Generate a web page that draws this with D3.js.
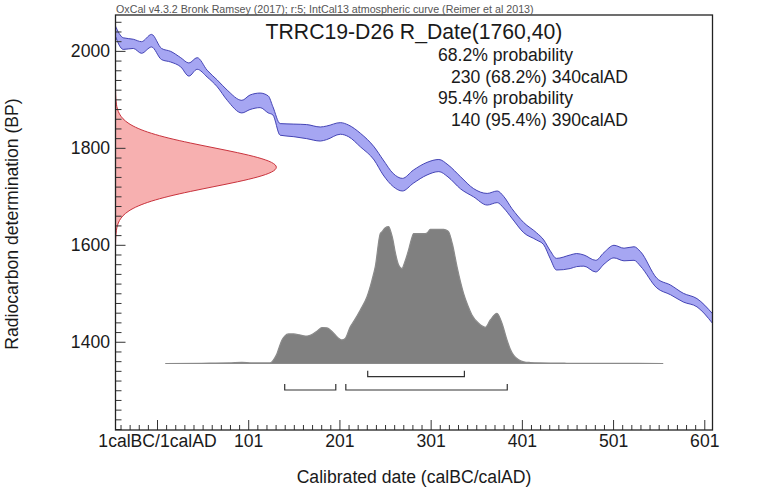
<!DOCTYPE html>
<html><head><meta charset="utf-8">
<script src="https://cdn.jsdelivr.net/npm/d3@7"></script>
<style>
body{margin:0;background:#fff}
svg{display:block}
text{font-family:Arial,"Liberation Sans",Helvetica,sans-serif}
</style>
</head><body>
<svg id="c" width="782" height="495"></svg>
<script>
// ---- data ----
const calYears = [-45,-36,-25,-16,-5,6,16,27,36,45,56,67,78,94,103,114,123,128,136,151,165,180,187,202,211,224,239,249,260,270,282,297,310,320,334,348,363,374,381,390,403,417,425,432,439,454,461,469,482,491,502,513,524,531,549,564,578,593,610];
const calUpper = [2053,2027,2024,2019,2034,2005,1999,1986,1975,1986,1960,1940,1919,1898,1909,1913,1907,1885,1850,1849,1848,1843,1845,1852,1847,1830,1802,1775,1747,1737,1754,1770,1776,1765,1740,1716,1706,1711,1700,1675,1646,1625,1610,1588,1572,1579,1582,1579,1568,1584,1599,1593,1596,1586,1531,1517,1500,1489,1458];
const calLower = [2032,2003,2005,1995,2008,1982,1977,1967,1948,1962,1946,1926,1898,1872,1879,1883,1872,1868,1826,1823,1819,1814,1817,1828,1823,1802,1775,1744,1720,1711,1727,1744,1751,1740,1715,1699,1682,1687,1676,1655,1625,1610,1600,1572,1548,1551,1555,1556,1544,1560,1573,1567,1568,1556,1511,1497,1482,1472,1438];

const dateBP      = [1600,1610,1620,1630,1640,1650,1660,1670,1680,1690,1700,1710,1720,1730,1740,1750,1760,1770,1780,1790,1800,1810,1820,1830,1840,1850,1860,1870,1880,1890,1900,1910,1920];
const dateDensity = [0.0003,0.0009,0.0022,0.0051,0.0111,0.0228,0.0439,0.0796,0.1353,0.2163,0.3247,0.4578,0.6065,0.7548,0.8825,0.9692,1,0.9692,0.8825,0.7548,0.6065,0.4578,0.3247,0.2163,0.1353,0.0796,0.0439,0.0228,0.0111,0.0051,0.0022,0.0009,0.0003];

const postYears   = [10,50,80,94,105,125,130,132.6,135,138,141,145.3,150.7,157,163.6,168,172.7,177,181.9,187.4,192,196.5,201,203.8,207.4,212.9,216.5,223.9,231.2,236.7,240.3,245.8,247.7,251,254.9,257.5,259.7,262,265.9,269.6,272,276.8,280,282.3,286,295.1,298,300.6,315.2,318,320.7,325,329.9,337.1,342,346.3,353.6,360.9,366.4,373.7,379.2,384.7,388,391.9,397,402.9,410,421.2,450,500,556];
const postDensity = [0,0.002,0.004,0.008,0.004,0.004,0.04,0.073,0.12,0.172,0.2,0.216,0.216,0.21,0.201,0.205,0.219,0.24,0.263,0.26,0.24,0.208,0.18,0.172,0.183,0.269,0.306,0.391,0.488,0.61,0.708,0.95,0.963,0.99,1,0.96,0.903,0.82,0.72,0.694,0.73,0.83,0.91,0.95,0.95,0.95,0.96,0.981,0.981,0.975,0.963,0.87,0.708,0.513,0.42,0.355,0.294,0.265,0.318,0.367,0.294,0.172,0.11,0.062,0.03,0.013,0.007,0.004,0.002,0.001,0];

const range68 = [[232,338]];
const range95 = [[141,197],[208,385]];

const xMajorTicks = [1,101,201,301,401,501,601];
const xTickLabels = ["1calBC/1calAD","101","201","301","401","501","601"];
const yMajorTicks = [1400,1600,1800,2000];
const yTickLabels = ["1400","1600","1800","2000"];

const headerText = "OxCal v4.3.2 Bronk Ramsey (2017); r:5; IntCal13 atmospheric curve (Reimer et al 2013)";
const titleText = "TRRC19-D26 R_Date(1760,40)";
const summaryLines = ["68.2% probability","230 (68.2%) 340calAD","95.4% probability","140 (95.4%) 390calAD"];
const xLabel = "Calibrated date (calBC/calAD)";
const yLabel = "Radiocarbon determination (BP)";

// ---- layout ----
const L = 115.5, R = 712.5, T = 15, B = 430;
const svg = d3.select("#c");
const x = d3.scaleLinear().domain([-44.5, 610]).range([L, R]);
const y = d3.scaleLinear().domain([1218, 2074]).range([B, T]);
const dx = d3.scaleLinear().domain([0, 1]).range([L, 278]);
const base = 363.5;
const gh = d3.scaleLinear().domain([0, 1]).range([base, 226.7]);

svg.append("defs").append("clipPath").attr("id","clip")
  .append("rect").attr("x",L).attr("y",T).attr("width",R-L).attr("height",B-T);

const plot = svg.append("g").attr("clip-path","url(#clip)");

// calibration curve band
const cal = calYears.map((d,i)=>({yr:d, u:calUpper[i], l:calLower[i]}));
plot.append("path").datum(cal)
  .attr("d", d3.area().x(d=>x(d.yr)).y0(d=>y(d.l)).y1(d=>y(d.u)).curve(d3.curveMonotoneX))
  .attr("fill","#a6a6f2").attr("stroke","none");
["u","l"].forEach(k=>{
  plot.append("path").datum(cal)
    .attr("d", d3.line().x(d=>x(d.yr)).y(d=>y(d[k])).curve(d3.curveMonotoneX))
    .attr("fill","none").attr("stroke","#3c3cb0").attr("stroke-width",0.95);
});

// radiocarbon date distribution (red)
const rd = dateBP.map((d,i)=>({bp:d, p:dateDensity[i]}));
plot.append("path").datum(rd)
  .attr("d", d3.area().y(d=>y(d.bp)).x0(L).x1(d=>dx(d.p)).curve(d3.curveBasis))
  .attr("fill","#f7b0b0").attr("stroke","#c8323c").attr("stroke-width",1);

// calibrated distribution (gray)
const pd = postYears.map((d,i)=>({yr:d, p:postDensity[i]}));
plot.append("path").datum(pd)
  .attr("d", d3.area().x(d=>x(d.yr)).y0(base).y1(d=>gh(d.p)).curve(d3.curveMonotoneX))
  .attr("fill","#808080").attr("stroke","#8a8a8a").attr("stroke-width",1.2);

// range brackets
function bracket(ranges, yy){
  ranges.forEach(r=>{
    svg.append("path")
      .attr("d", `M${x(r[0])},${yy-6}V${yy}H${x(r[1])}V${yy-6}`)
      .attr("fill","none").attr("stroke","#333").attr("stroke-width",1.2);
  });
}
bracket(range68, 376.7);
bracket(range95, 390);

// axes
const xMinor = d3.range(-39, 611, 10).filter(v=>!xMajorTicks.includes(v));
const yMinor = d3.range(1220, 2074, 20).filter(v=>!yMajorTicks.includes(v));

const gxm = svg.append("g").attr("transform",`translate(0,${B})`)
  .call(d3.axisBottom(x).tickValues(xMinor).tickSize(-5).tickFormat(""));
const gx = svg.append("g").attr("transform",`translate(0,${B})`)
  .call(d3.axisBottom(x).tickValues(xMajorTicks).tickSize(-10).tickPadding(4.5)
    .tickFormat((d,i)=>xTickLabels[i]));
const gym = svg.append("g").attr("transform",`translate(${L},0)`)
  .call(d3.axisLeft(y).tickValues(yMinor).tickSize(-6).tickFormat(""));
const gy = svg.append("g").attr("transform",`translate(${L},0)`)
  .call(d3.axisLeft(y).tickValues(yMajorTicks).tickSize(-10).tickPadding(5.5)
    .tickFormat((d,i)=>yTickLabels[i]));
[gxm,gx,gym,gy].forEach(g=>{
  g.select(".domain").remove();
  g.selectAll("line").attr("stroke","#333").attr("stroke-width",1);
  g.selectAll("text").attr("fill","#1a1a1a").style("font-size","17.6px");
});

// frame
svg.append("rect").attr("x",L).attr("y",T).attr("width",R-L).attr("height",B-T)
  .attr("fill","none").attr("stroke","#222").attr("stroke-width",1.3);

// texts
svg.append("text").attr("x",116).attr("y",12.8).text(headerText)
  .style("font-size","10.7px").attr("fill","#555");
svg.append("text").attr("x",(L+R)/2).attr("y",39.3).attr("text-anchor","middle")
  .text(titleText).style("font-size","21.2px").attr("fill","#1a1a1a");
const sx = [438,451,438,451], sy = [61,83,104,125.5];
summaryLines.forEach((t,i)=>{
  svg.append("text").attr("x",sx[i]).attr("y",sy[i]).text(t)
    .style("font-size","17.6px").attr("fill","#1a1a1a");
});
svg.append("text").attr("x",(L+R)/2).attr("y",483).attr("text-anchor","middle")
  .text(xLabel).style("font-size","17.6px").attr("fill","#1a1a1a");
svg.append("text").attr("transform","translate(17.5,224) rotate(-90)").attr("text-anchor","middle")
  .text(yLabel).style("font-size","17.6px").attr("fill","#1a1a1a");
</script>
</body></html>
